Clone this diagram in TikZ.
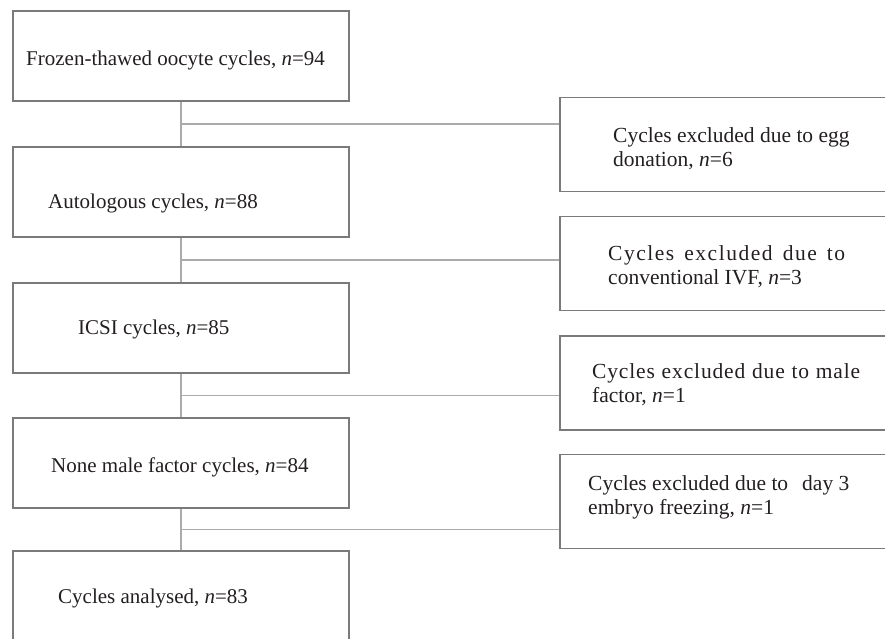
\documentclass[tikz,border=0pt]{standalone}
\usepackage{fontspec}
\setmainfont{Liberation Serif}
\usetikzlibrary{positioning,calc}
\definecolor{boxgray}{HTML}{7A7A7A}
\definecolor{linegray}{HTML}{ABABAB}
\definecolor{inkblack}{HTML}{231F20}

\begin{document}
\begin{tikzpicture}[x=1pt, y=-1pt,
  stagebox/.style={draw=boxgray, line width=1.9pt, minimum width=336pt, minimum height=90pt},
  exclbox/.style={draw=boxgray, line width=1.9pt, minimum width=350pt, minimum height=94pt},
  flowline/.style={draw=linegray, line width=1.4pt},
  boxtext/.style={inner sep=0pt, text=inkblack, align=left, font=\fontsize{21}{24}\selectfont},
  excltext/.style={boxtext, font=\fontsize{21.5}{24}\selectfont}]
  \path[use as bounding box, clip] (0,0) rectangle (885,638);

  % Connectors between stages
  \coordinate (s1b) at (181,101);
  \coordinate (s2t) at (181,147);
  \coordinate (s2b) at (181,237);
  \coordinate (s3t) at (181,283);
  \coordinate (s3b) at (181,373);
  \coordinate (s4t) at (181,418);
  \coordinate (s4b) at (181,508);
  \coordinate (s5t) at (181,551);
  \coordinate (j1) at ($(s1b)!0.5!(s2t)$);
  \coordinate (j2) at ($(s2b)!0.5!(s3t)$);
  \coordinate (j3) at ($(s3b)!0.5!(s4t)$);
  \coordinate (j4) at ($(s4b)!0.5!(s5t)$);

  % Stage boxes
  \node[stagebox] (s1) at (181,56) {};
  \node[stagebox] (s2) at (181,192) {};
  \node[stagebox] (s3) at (181,328) {};
  \node[stagebox] (s4) at (181,463) {};
  \node[stagebox] (s5) at (181,596) {};

  % Exclusion boxes
  \node[exclbox] (e1) at (735,144.5) {};
  \node[exclbox] (e2) at (735,263.5) {};
  \node[exclbox] (e3) at (735,383) {};
  \node[exclbox] (e4) at (735,501.5) {};

  \draw[flowline] (s1.south) -- (s2.north);
  \draw[flowline] (s2.south) -- (s3.north);
  \draw[flowline] (s3.south) -- (s4.north);
  \draw[flowline] (s4.south) -- (s5.north);
  \draw[flowline] (j1) -- (j1 -| e1.west);
  \draw[flowline] (j2) -- (j2 -| e2.west);
  \draw[flowline] (j3) -- (j3 -| e3.west);
  \draw[flowline] (j4) -- (j4 -| e4.west);

  % Stage texts
  \node[boxtext, anchor=base west] (t1) at (26,65) {Frozen-thawed oocyte cycles, \textit{n}=94};
  \node[boxtext, anchor=base west] (t2) at (48,208) {Autologous cycles, \textit{n}=88};
  \node[boxtext, anchor=base west] (t3) at (78,334) {ICSI cycles, \textit{n}=85};
  \node[boxtext, anchor=base west] (t4) at (51,472) {None male factor cycles, \textit{n}=84};
  \node[boxtext, anchor=base west] (t5) at (58,603) {Cycles analysed, \textit{n}=83};

  % Exclusion texts
  \node[excltext, anchor=west] (x1) at (613,148.5) {Cycles excluded due to egg\\donation, \textit{n}=6};
  \node[excltext, anchor=west] (x2) at (608,266.5)
    {\makebox[237pt][s]{\addfontfeature{LetterSpace=7}Cycles excluded due to}\\conventional IVF, \textit{n}=3};
  \node[excltext, anchor=west] (x3) at (592,385)
    {\makebox[268pt][s]{\addfontfeature{LetterSpace=4}Cycles excluded due to male}\\factor, \textit{n}=1};
  \node[excltext, anchor=west] (x4) at (588,497.5) {Cycles excluded due to\hspace{14pt}day 3\\embryo freezing, \textit{n}=1};
\end{tikzpicture}
\end{document}
